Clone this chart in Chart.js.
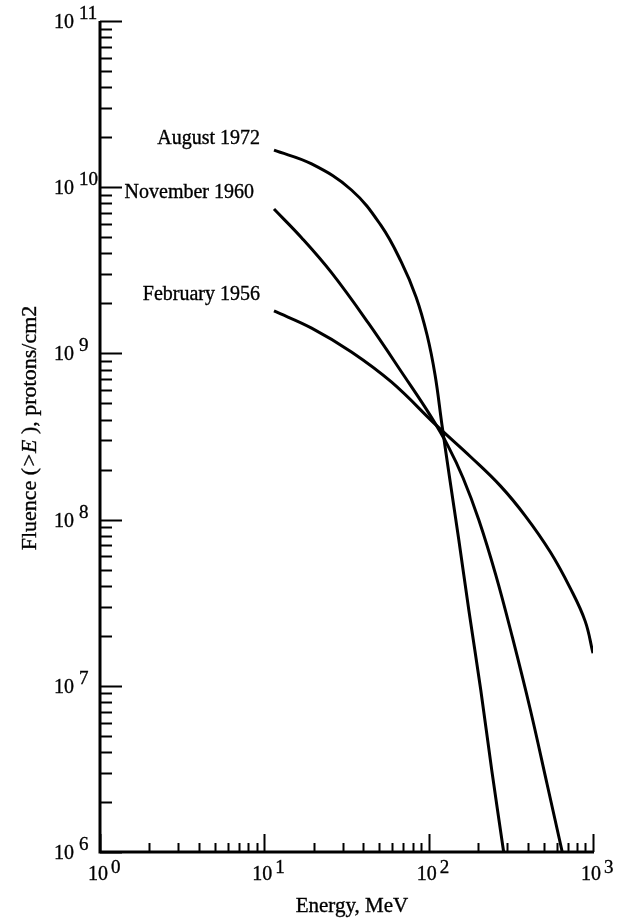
<!DOCTYPE html>
<html><head><meta charset="utf-8">
<script src="https://cdn.jsdelivr.net/npm/chart.js@4.4.1/dist/chart.umd.min.js"></script>
<style>html,body{margin:0;padding:0;background:#fff}#wrap{width:622px;height:918px;position:relative}</style>
</head><body><div id="wrap"><canvas id="c" width="622" height="918"></canvas></div>
<script>
// ---- data ----
const seriesNames = ['August 1972', 'November 1960', 'February 1956'];

const aug1972Energy  = [11.45, 19.4, 33.9, 51.5, 68.1, 83.9, 97.8, 109.4, 120.5, 134.7, 152.6, 175.5, 207.5, 242, 286];
const aug1972Fluence = [1.67e10, 1.38e10, 9.62e9, 5.85e9, 3.55e9, 2.18e9, 1.29e9, 7.41e8, 3.71e8, 1.73e8, 7.54e7, 2.86e7, 9.44e6, 3.11e6, 1.0e6];

const nov1960Energy  = [11.45, 16.9, 25.7, 43.0, 71.0, 102, 132, 162, 202, 256, 324, 416, 527, 650];
const nov1960Fluence = [7.39e9, 4.95e9, 3.05e9, 1.52e9, 7.31e8, 4.25e8, 2.74e8, 1.78e8, 9.95e7, 4.65e7, 1.94e7, 7.15e6, 2.53e6, 1.0e6];

const feb1956Energy  = [11.45, 19.4, 33.9, 59.3, 114, 180.5, 274, 388, 550, 727, 896, 1000];
const feb1956Fluence = [1.80e9, 1.42e9, 1.02e9, 6.73e8, 3.61e8, 2.38e8, 1.59e8, 1.05e8, 6.38e7, 3.87e7, 2.45e7, 1.57e7];

const xTickExponents = [0, 1, 2, 3];
const yTickExponents = [6, 7, 8, 9, 10, 11];
const xAxisTitle = 'Energy, MeV';
const yAxisTitleParts = ['Fluence (', '>E', ' ), protons/cm2'];

// ---- build datasets ----
function pts(xs, ys) { return xs.map((x, i) => ({ x: x, y: ys[i] })); }
const seriesData = [
  pts(aug1972Energy, aug1972Fluence),
  pts(nov1960Energy, nov1960Fluence),
  pts(feb1956Energy, feb1956Fluence)
];

const SERIF = '"Liberation Serif", "DejaVu Serif", serif';

function boldText(ctx, t, x, y) {
  ctx.fillText(t, x, y);
  ctx.strokeText(t, x, y);
}

const decorPlugin = {
  id: 'decor',
  afterDraw(chart) {
    const ctx = chart.ctx;
    const xs = chart.scales.x, ys = chart.scales.y;
    const ca = chart.chartArea;
    ctx.save();
    ctx.strokeStyle = '#000';
    ctx.fillStyle = '#000';
    ctx.lineCap = 'butt';

    // axes lines
    ctx.lineWidth = 3;
    ctx.beginPath();
    ctx.moveTo(ca.left, ca.top);
    ctx.lineTo(ca.left, ca.bottom);
    ctx.lineTo(ca.right + 1, ca.bottom);
    ctx.stroke();

    // y ticks (inside, to the right)
    ctx.lineWidth = 2;
    const yLast = yTickExponents[yTickExponents.length - 1];
    for (let e = yTickExponents[0]; e <= yLast; e++) {
      for (let m = 1; m <= 9; m++) {
        if (e === yLast && m > 1) break;
        const py = Math.round(ys.getPixelForValue(m * Math.pow(10, e))) + 0.5;
        const len = m === 1 ? 22 : 12;
        ctx.beginPath();
        ctx.moveTo(ca.left, py);
        ctx.lineTo(ca.left + len, py);
        ctx.stroke();
      }
    }
    // x ticks (inside, upward)
    const xLast = xTickExponents[xTickExponents.length - 1];
    for (let e = xTickExponents[0]; e <= xLast; e++) {
      for (let m = 1; m <= 9; m++) {
        if (e === xLast && m > 1) break;
        const px = Math.round(xs.getPixelForValue(m * Math.pow(10, e))) + 0.5;
        const len = m === 1 ? 18 : 9;
        ctx.beginPath();
        ctx.moveTo(px, ca.bottom);
        ctx.lineTo(px, ca.bottom - len);
        ctx.stroke();
      }
    }

    ctx.lineWidth = 0.35;
    ctx.textBaseline = 'alphabetic';
    // y tick labels: "10" + superscript exponent
    yTickExponents.forEach(e => {
      const py = ys.getPixelForValue(Math.pow(10, e));
      ctx.font = '20px ' + SERIF;
      ctx.textAlign = 'right';
      boldText(ctx, '10', 74, py + 7);
      ctx.font = '19px ' + SERIF;
      ctx.textAlign = 'left';
      boldText(ctx, String(e), 79, py - 2);
    });
    // x tick labels
    xTickExponents.forEach(e => {
      const px = xs.getPixelForValue(Math.pow(10, e));
      ctx.font = '20px ' + SERIF;
      ctx.textAlign = 'right';
      boldText(ctx, '10', px + 8, 880);
      ctx.font = '19px ' + SERIF;
      ctx.textAlign = 'left';
      boldText(ctx, String(e), px + 11, 873);
    });

    // x axis title
    ctx.font = '21px ' + SERIF;
    ctx.textAlign = 'center';
    boldText(ctx, xAxisTitle, 352, 912);

    // y axis title (rotated, with italic >E)
    ctx.save();
    ctx.translate(36, 428);
    ctx.rotate(-Math.PI / 2);
    const fonts = ['22px ' + SERIF, 'italic 22px ' + SERIF, '22px ' + SERIF];
    let total = 0;
    const widths = yAxisTitleParts.map((t, i) => { ctx.font = fonts[i]; const w = ctx.measureText(t).width; total += w; return w; });
    let x0 = -total / 2;
    ctx.textAlign = 'left';
    yAxisTitleParts.forEach((t, i) => { ctx.font = fonts[i]; boldText(ctx, t, x0, 0); x0 += widths[i]; });
    ctx.restore();

    // series labels near the start of each curve
    const labelOffsets = [[-14, -6], [-20, -11], [-14, -11]];
    ctx.font = '20px ' + SERIF;
    ctx.textAlign = 'right';
    chart.data.datasets.forEach((ds, i) => {
      const p = ds.data[0];
      const px = xs.getPixelForValue(p.x), py = ys.getPixelForValue(p.y);
      boldText(ctx, ds.label, px + labelOffsets[i][0], py + labelOffsets[i][1]);
    });

    ctx.restore();
  }
};

new Chart(document.getElementById('c'), {
  type: 'line',
  data: {
    datasets: seriesData.map((d, i) => ({
      label: seriesNames[i],
      data: d,
      borderColor: '#000',
      borderWidth: 3,
      pointRadius: 0,
      fill: false,
      tension: 0.4
    }))
  },
  options: {
    responsive: false,
    animation: false,
    devicePixelRatio: 1,
    layout: { padding: { left: 100, right: 29, top: 21, bottom: 66 } },
    scales: {
      x: { type: 'logarithmic', min: 1, max: 1000, display: false },
      y: { type: 'logarithmic', min: 1e6, max: 1e11, display: false }
    },
    plugins: { legend: { display: false }, tooltip: { enabled: false } }
  },
  plugins: [decorPlugin]
});
</script>
</body></html>
